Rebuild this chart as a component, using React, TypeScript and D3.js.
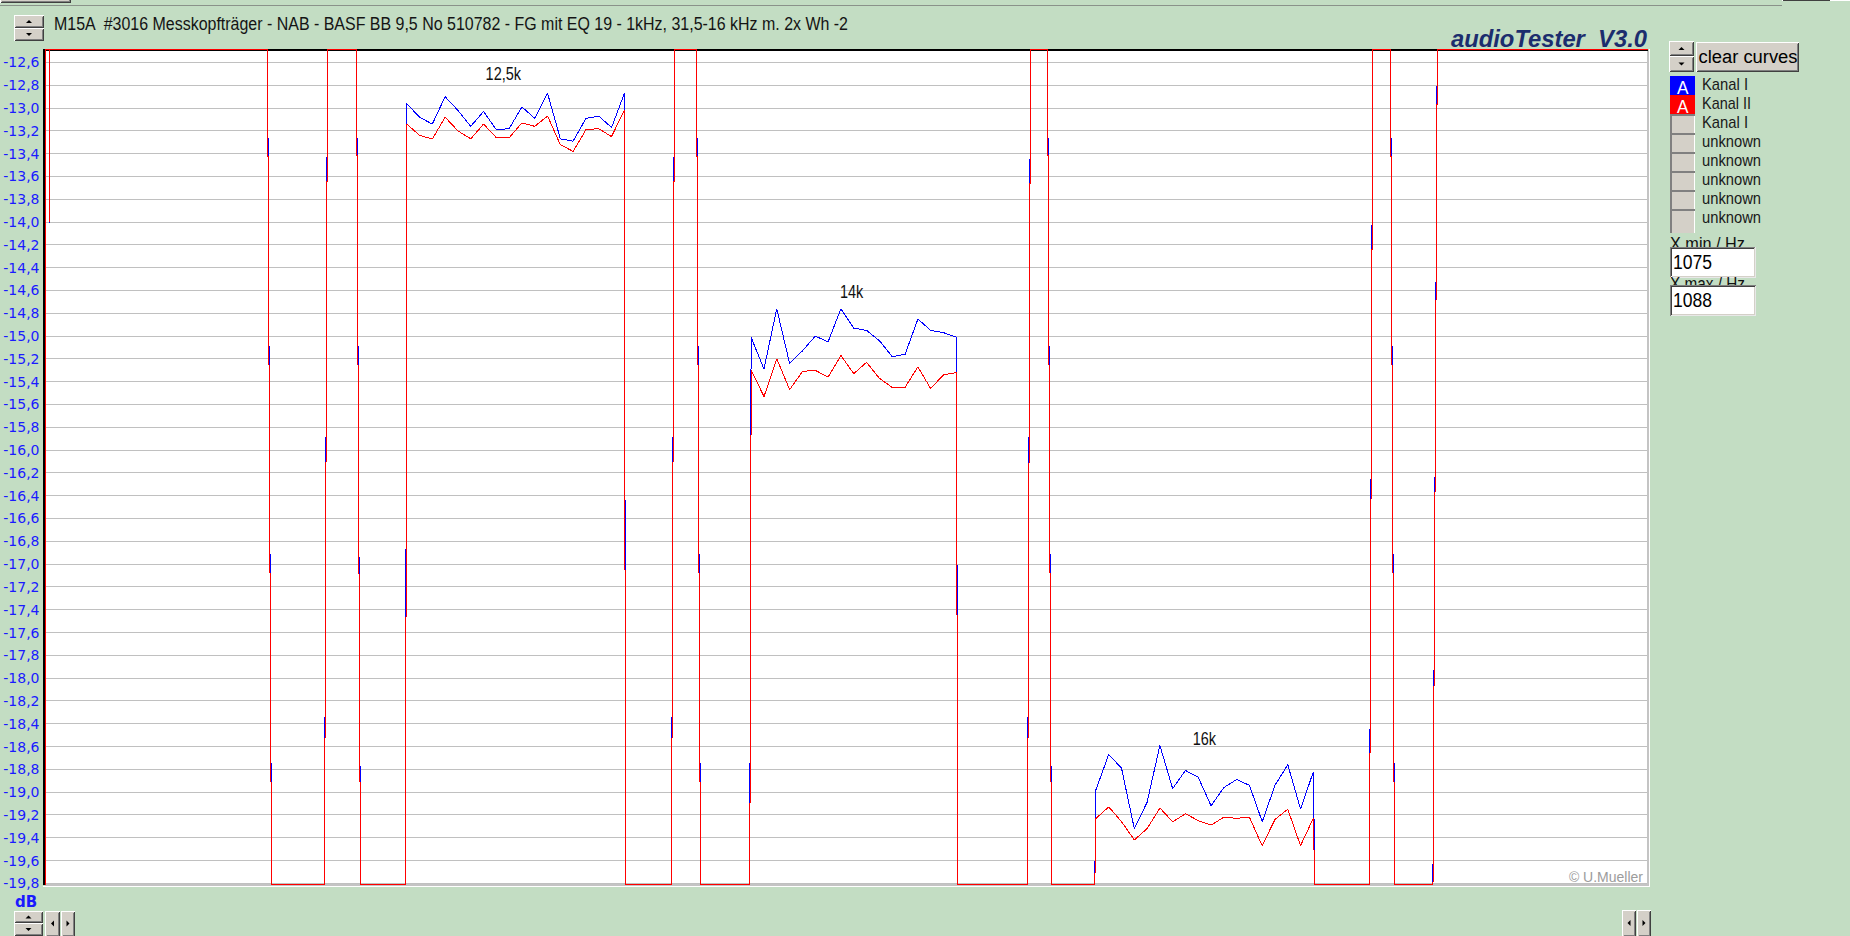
import React from "react";
import * as d3 from "d3";

// ---------------- texts ----------------
const TITLE =
  "M15A  #3016 Messkopfträger - NAB - BASF BB 9,5 No 510782 - FG mit EQ 19 - 1kHz, 31,5-16 kHz m. 2x Wh -2";
const BRAND = "audioTester  V3.0";
const COPYRIGHT = "© U.Mueller";
const Y_UNIT = "dB";
const CLEAR_LABEL = "clear curves";
const XMIN_LABEL = "X min / Hz";
const XMAX_LABEL = "X max / Hz";

// ---------------- axes ----------------
const X_MIN = 1075;
const X_MAX = 1088;

const yTickLabels = [
  "-12,6", "-12,8", "-13,0", "-13,2", "-13,4", "-13,6", "-13,8", "-14,0", "-14,2", "-14,4",
  "-14,6", "-14,8", "-15,0", "-15,2", "-15,4", "-15,6", "-15,8", "-16,0", "-16,2", "-16,4",
  "-16,6", "-16,8", "-17,0", "-17,2", "-17,4", "-17,6", "-17,8", "-18,0", "-18,2", "-18,4",
  "-18,6", "-18,8", "-19,0", "-19,2", "-19,4", "-19,6", "-19,8",
];

// ---------------- legend ----------------
const legendNames = ["Kanal I", "Kanal II", "Kanal I", "unknown", "unknown", "unknown", "unknown", "unknown"];

// ---------------- measured levels (dB) ----------------
const LEVEL_ABOVE = -6; // 1 kHz / reference sections, above the visible range
const LEVEL_BELOW = -45; // pauses, below the visible range
const LEVEL_DROPOUT = -14.0;

// sections of the recording along the x axis
const sectionKind = [
  "pause", "above", "dropout", "above", "pause", "above", "pause", "12,5k", "pause", "above",
  "pause", "14k", "pause", "above", "pause", "16k", "pause", "above", "pause", "above",
];
const sectionStart = [
  1075.0, 1075.0041, 1075.0365, 1075.0365, 1076.8369, 1077.291, 1077.5586, 1077.9341, 1079.7077, 1080.1051,
  1080.316, 1080.7271, 1082.4026, 1082.9922, 1083.1625, 1083.5234, 1085.2978, 1085.7682, 1085.9442, 1086.2913,
];
const sectionEnd = [
  1075.0041, 1075.0365, 1075.0365, 1076.8044, 1077.2667, 1077.5262, 1077.9244, 1079.698, 1080.0808, 1080.2835,
  1080.7158, 1082.3905, 1082.9679, 1083.1301, 1083.5137, 1085.2857, 1085.7414, 1085.9117, 1086.2564, 1088.0,
];

// Kanal I reacts slightly earlier on rising and later on falling edges
const KANAL1_EDGE_LEAD = 0.0007;

const kanal1_12k5 = [-12.96, -13.08, -13.14, -12.9, -13.02, -13.16, -13.03, -13.19, -13.18, -12.99, -13.09, -12.87, -13.27, -13.29, -13.09, -13.07, -13.17, -12.87];
const kanal2_12k5 = [-13.14, -13.24, -13.27, -13.08, -13.2, -13.27, -13.14, -13.26, -13.26, -13.13, -13.16, -13.07, -13.32, -13.38, -13.19, -13.18, -13.25, -13.02];

const kanal1_14k = [-15.01, -15.29, -14.76, -15.24, -15.13, -15.0, -15.05, -14.76, -14.93, -14.95, -15.04, -15.18, -15.16, -14.85, -14.95, -14.97, -15.01];
const kanal2_14k = [-15.3, -15.53, -15.2, -15.47, -15.31, -15.3, -15.36, -15.17, -15.33, -15.23, -15.37, -15.45, -15.45, -15.27, -15.46, -15.34, -15.32];

const kanal1_16k = [-18.98, -18.67, -18.79, -19.32, -19.09, -18.59, -18.97, -18.81, -18.87, -19.12, -18.96, -18.89, -18.94, -19.26, -18.94, -18.76, -19.15, -18.82];
const kanal2_16k = [-19.23, -19.13, -19.26, -19.42, -19.32, -19.14, -19.26, -19.19, -19.25, -19.29, -19.22, -19.23, -19.22, -19.47, -19.24, -19.15, -19.47, -19.23];

// annotations (data coordinates)
const annotationText = ["12,5k", "14k", "16k"];
const annotationX = [1078.717, 1081.542, 1084.402];
const annotationY = [-12.754, -14.668, -18.587];

// ---------------- helpers ----------------
const toneData: Record<string, { k1: number[]; k2: number[] }> = {
  "12,5k": { k1: kanal1_12k5, k2: kanal2_12k5 },
  "14k": { k1: kanal1_14k, k2: kanal2_14k },
  "16k": { k1: kanal1_16k, k2: kanal2_16k },
};

function sectionValues(kind: string, ch: "k1" | "k2"): number[] {
  if (kind === "above") return [LEVEL_ABOVE];
  if (kind === "pause") return [LEVEL_BELOW];
  if (kind === "dropout") return [LEVEL_DROPOUT];
  return toneData[kind][ch];
}

function buildSeries(ch: "k1" | "k2", lead: number): [number, number][] {
  const n = sectionKind.length;
  const starts = sectionStart.slice();
  const ends = sectionEnd.slice();
  const vals = sectionKind.map((k) => sectionValues(k, ch));
  for (let i = 1; i < n; i++) {
    const prev = vals[i - 1][vals[i - 1].length - 1];
    const rising = vals[i][0] > prev;
    const s = rising ? -lead : lead;
    ends[i - 1] += s;
    starts[i] += s;
  }
  const pts: [number, number][] = [];
  vals.forEach((v, i) => {
    if (v.length === 1) {
      pts.push([starts[i], v[0]], [ends[i], v[0]]);
    } else {
      const pos = d3.scaleLinear().domain([0, v.length - 1]).range([starts[i], ends[i]]);
      v.forEach((val, j) => pts.push([pos(j), val]));
    }
  });
  return pts;
}

const SANS = "'Liberation Sans', Arial, Helvetica, sans-serif";
const DEJAVU = "'DejaVu Sans', Verdana, sans-serif";

function Bevel({ x, y, w, h }: { x: number; y: number; w: number; h: number }) {
  return (
    <g shapeRendering="crispEdges">
      <rect x={x} y={y} width={w} height={h} fill="#d4d0c8" />
      <path d={`M${x + 0.5},${y + h - 0.5}V${y + 0.5}H${x + w - 0.5}`} stroke="#ffffff" fill="none" />
      <path d={`M${x + 0.5},${y + h - 0.5}H${x + w - 0.5}V${y + 0.5}`} stroke="#404040" fill="none" />
      <path d={`M${x + 1.5},${y + h - 1.5}H${x + w - 1.5}V${y + 1.5}`} stroke="#808080" fill="none" />
    </g>
  );
}

function Tri({ cx, cy, dir }: { cx: number; cy: number; dir: "up" | "down" | "left" | "right" }) {
  let d = "";
  if (dir === "up") d = `M${cx - 3},${cy + 1.5}L${cx + 3},${cy + 1.5}L${cx},${cy - 1.5}Z`;
  if (dir === "down") d = `M${cx - 3},${cy - 1.5}L${cx + 3},${cy - 1.5}L${cx},${cy + 1.5}Z`;
  if (dir === "left") d = `M${cx + 1.5},${cy - 3}L${cx + 1.5},${cy + 3}L${cx - 1.5},${cy}Z`;
  if (dir === "right") d = `M${cx - 1.5},${cy - 3}L${cx - 1.5},${cy + 3}L${cx + 1.5},${cy}Z`;
  return <path d={d} fill="#000" />;
}

function Spinner({ x, y, w, h1, h2 }: { x: number; y: number; w: number; h1: number; h2: number }) {
  return (
    <g>
      <Bevel x={x} y={y} w={w} h={h1} />
      <Bevel x={x} y={y + h1} w={w} h={h2} />
      <Tri cx={x + w / 2} cy={y + h1 / 2} dir="up" />
      <Tri cx={x + w / 2} cy={y + h1 + h2 / 2} dir="down" />
    </g>
  );
}

function InputBox({ x, y, w, h, text }: { x: number; y: number; w: number; h: number; text: string }) {
  return (
    <g>
      <g shapeRendering="crispEdges">
        <rect x={x} y={y} width={w} height={h} fill="#ffffff" />
        <path d={`M${x + 0.5},${y + h - 0.5}V${y + 0.5}H${x + w - 0.5}`} stroke="#808080" fill="none" />
        <path d={`M${x + 1.5},${y + h - 1.5}V${y + 1.5}H${x + w - 1.5}`} stroke="#404040" fill="none" />
        <path d={`M${x + 0.5},${y + h - 0.5}H${x + w - 0.5}V${y + 0.5}`} stroke="#e8e8e8" fill="none" />
        <path d={`M${x + 1.5},${y + h - 1.5}H${x + w - 1.5}V${y + 1.5}`} stroke="#d4d0c8" fill="none" />
      </g>
      <text x={x + 3} y={y + 22} fontFamily={SANS} fontSize={20} fill="#000" textLength={39} lengthAdjust="spacingAndGlyphs">
        {text}
      </text>
    </g>
  );
}

export default function App() {
  const W = 1850;
  const H = 936;
  const plotLeft = 45;
  const plotRight = 1648;
  const x = d3.scaleLinear().domain([X_MIN, X_MAX]).range([plotLeft, plotRight]);
  const y = d3.scaleLinear().domain([-19.8105, -12.486]).range([884.5, 49.5]).clamp(true);
  const line = d3
    .line<[number, number]>()
    .x((d) => x(d[0]))
    .y((d) => y(d[1]));

  const kanal1 = buildSeries("k1", KANAL1_EDGE_LEAD);
  const kanal2 = buildSeries("k2", 0);

  const yTicks = yTickLabels.map((l) => ({ label: l, value: +l.replace(",", ".") }));

  const legendTop = 76;
  const legendRowH = 19;
  const legendWidths: Record<string, number> = { "Kanal I": 46, "Kanal II": 49, unknown: 59 };

  return (
    <svg
      width={W}
      height={H}
      viewBox={`0 0 ${W} ${H}`}
      style={{ position: "fixed", left: 0, top: 0, display: "block" }}
    >
      {/* background */}
      <rect x={0} y={0} width={W} height={H} fill="#c3ddc3" />

      {/* top window strip */}
      <Bevel x={0} y={-10} w={71} h={13} />
      <Bevel x={1782} y={-10} w={48} h={11} />
      <rect x={1830} y={0} width={20} height={1} fill="#ffffff" />
      <rect x={0} y={4.5} width={1782} height={1.5} fill="#8a928a" shapeRendering="crispEdges" />

      {/* title */}
      <Spinner x={14} y={15} w={30} h1={13} h2={13} />
      <text
        x={54}
        y={29.5}
        fontFamily={SANS}
        fontSize={17.5}
        fill="#141414"
        textLength={794}
        lengthAdjust="spacingAndGlyphs"
        style={{ whiteSpace: "pre" }}
      >
        {TITLE}
      </text>

      {/* brand */}
      <text
        x={1647}
        y={46.7}
        textAnchor="end"
        fontFamily={SANS}
        fontSize={23}
        fontWeight="bold"
        fontStyle="italic"
        fill="#1c2d6e"
        textLength={196}
        lengthAdjust="spacingAndGlyphs"
        style={{ whiteSpace: "pre" }}
      >
        {BRAND}
      </text>

      {/* plot area */}
      <rect x={45} y={51} width={1602} height={833} fill="#ffffff" shapeRendering="crispEdges" />
      {yTicks.map((t) => (
        <line
          key={t.label}
          x1={45}
          x2={1647}
          y1={y(t.value)}
          y2={y(t.value)}
          stroke="#c0c0c0"
          strokeWidth={1}
          shapeRendering="crispEdges"
        />
      ))}
      {/* frame */}
      <rect x={43} y={49} width={1605} height={2} fill="#000000" shapeRendering="crispEdges" />
      <rect x={43} y={49} width={2} height={836} fill="#000000" shapeRendering="crispEdges" />
      <rect x={45} y={884} width={1604} height={2} fill="#c4c4c4" shapeRendering="crispEdges" />
      <rect x={1647} y={51} width={2} height={835} fill="#c4c4c4" shapeRendering="crispEdges" />
      <rect x={1649} y={49} width={1} height={838} fill="#ffffff" shapeRendering="crispEdges" />
      <rect x={43} y={886} width={1607} height={1} fill="#ffffff" shapeRendering="crispEdges" />

      {/* y labels */}
      {yTicks.map((t) => (
        <text key={"l" + t.label} x={39.5} y={y(t.value) + 5} textAnchor="end" fontFamily={DEJAVU} fontSize={14} fill="#1a1aff">
          {t.label}
        </text>
      ))}
      <text x={15} y={907.3} fontFamily={DEJAVU} fontSize={15} fontWeight="bold" fill="#1a1aff">
        {Y_UNIT}
      </text>

      {/* copyright */}
      <text x={1643} y={882} textAnchor="end" fontFamily={SANS} fontSize={14} fill="#9c9c9c">
        {COPYRIGHT}
      </text>

      {/* annotations */}
      {annotationText.map((t, i) => (
        <text
          key={t}
          x={x(annotationX[i])}
          y={y(annotationY[i])}
          textAnchor="middle"
          fontFamily={SANS}
          fontSize={18}
          fill="#111"
          textLength={t.length > 3 ? 35.5 : 23.3}
          lengthAdjust="spacingAndGlyphs"
        >
          {t}
        </text>
      ))}

      {/* curves */}
      <path d={line(kanal1) || ""} fill="none" stroke="#0000ff" strokeWidth={1} strokeLinejoin="bevel" shapeRendering="crispEdges" />
      <path d={line(kanal2) || ""} fill="none" stroke="#ff0000" strokeWidth={1} strokeLinejoin="bevel" shapeRendering="crispEdges" />

      {/* right panel */}
      <Spinner x={1669} y={41} w={25} h1={15} h2={16} />
      <Bevel x={1696} y={42} w={103} h={30} />
      <text x={1698.5} y={63.3} fontFamily={SANS} fontSize={18} fill="#000" textLength={99} lengthAdjust="spacingAndGlyphs">
        {CLEAR_LABEL}
      </text>

      {/* legend */}
      <g shapeRendering="crispEdges">
        <rect x={1670} y={legendTop + 2 * legendRowH} width={25} height={6 * legendRowH + 5} fill="#d4d0c8" />
        <rect x={1694} y={legendTop + 2 * legendRowH} width={1} height={6 * legendRowH + 5} fill="#ffffff" />
        <rect x={1670} y={legendTop + 2 * legendRowH} width={2} height={6 * legendRowH + 5} fill="#808080" />
        {d3.range(2, 8).map((i) => (
          <rect key={"gl" + i} x={1670} y={legendTop + i * legendRowH} width={25} height={2} fill="#808080" />
        ))}
        <rect x={1670} y={legendTop} width={25} height={legendRowH} fill="#0000ff" />
        <rect x={1670} y={legendTop + legendRowH} width={25} height={legendRowH} fill="#ff0000" />
      </g>
      {[0, 1].map((i) => (
        <text
          key={"A" + i}
          x={1682.7}
          y={legendTop + (i + 1) * legendRowH - 1}
          textAnchor="middle"
          fontFamily={SANS}
          fontSize={19}
          fill="#ffffff"
          textLength={11.5}
          lengthAdjust="spacingAndGlyphs"
        >
          A
        </text>
      ))}
      {legendNames.map((n, i) => (
        <text
          key={"ln" + i}
          x={1702}
          y={legendTop + i * legendRowH + 14}
          fontFamily={SANS}
          fontSize={17}
          fill="#1a1a1a"
          textLength={legendWidths[n]}
          lengthAdjust="spacingAndGlyphs"
        >
          {n}
        </text>
      ))}

      {/* X min / X max (labels partly covered by their input boxes, as in the app) */}
      <text x={1670} y={249.5} fontFamily={SANS} fontSize={17.5} fill="#111" textLength={75} lengthAdjust="spacingAndGlyphs">
        {XMIN_LABEL}
      </text>
      <InputBox x={1670} y={246.5} w={86} h={31} text={String(X_MIN)} />
      <text x={1670} y={289.5} fontFamily={SANS} fontSize={17.5} fill="#111" textLength={75} lengthAdjust="spacingAndGlyphs">
        {XMAX_LABEL}
      </text>
      <InputBox x={1670} y={285} w={86} h={31} text={String(X_MAX)} />

      {/* bottom controls */}
      <Spinner x={14} y={911} w={29} h1={12} h2={13} />
      <Bevel x={45} y={911} w={15} h={26} />
      <Tri cx={52.5} cy={923.5} dir="left" />
      <Bevel x={61} y={911} w={14} h={26} />
      <Tri cx={68} cy={923.5} dir="right" />
      <Bevel x={1622} y={910} w={14} h={27} />
      <Tri cx={1629} cy={923} dir="left" />
      <Bevel x={1637} y={910} w={14} h={27} />
      <Tri cx={1644} cy={923} dir="right" />
    </svg>
  );
}
